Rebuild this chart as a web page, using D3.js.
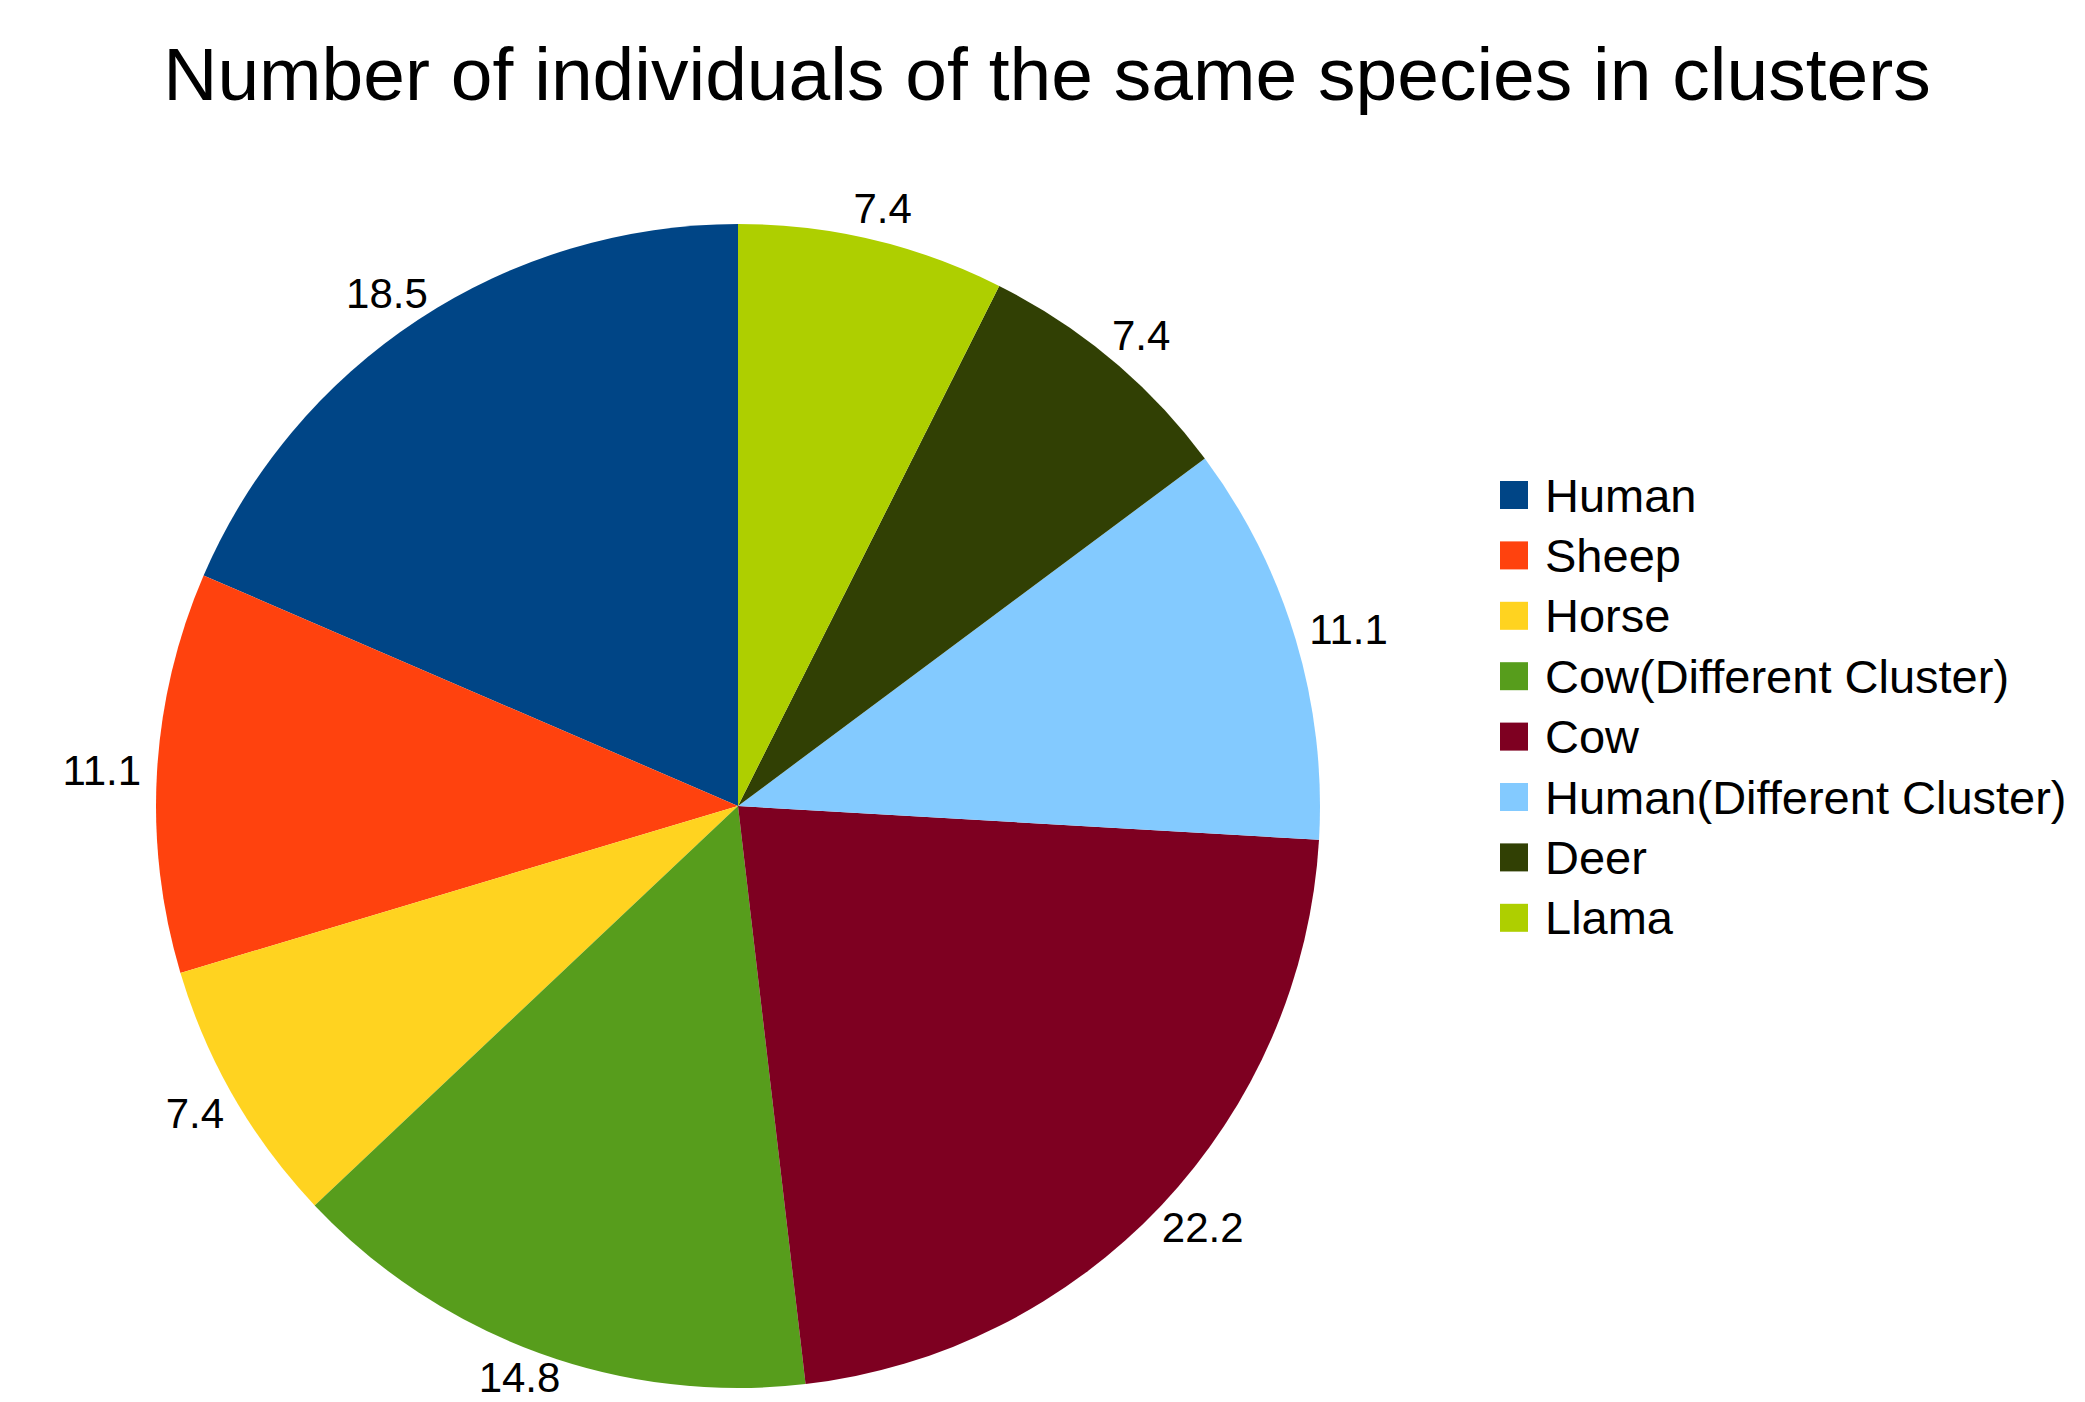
<!DOCTYPE html>
<html>
<head>
<meta charset="utf-8">
<script src="https://d3js.org/d3.v7.min.js"></script>
<style>
  html, body { margin: 0; padding: 0; background: #ffffff; }
  svg { display: block; }
  text { font-family: "Liberation Sans", Arial, sans-serif; fill: #000; }
</style>
</head>
<body>
<script>
const categories = ["Human", "Sheep", "Horse", "Cow(Different Cluster)", "Cow", "Human(Different Cluster)", "Deer", "Llama"];
const values = [18.5, 11.1, 7.4, 14.8, 22.2, 11.1, 7.4, 7.4];
const labels = ["18.5", "11.1", "7.4", "14.8", "22.2", "11.1", "7.4", "7.4"];
const colors = ["#004586", "#ff420e", "#ffd320", "#579d1c", "#7e0021", "#83caff", "#314004", "#aecf00"];
const title = "Number of individuals of the same species in clusters";

const W = 2085, H = 1402;
const cx = 738, cy = 806, R = 582;

const svg = d3.select("body").append("svg").attr("width", W).attr("height", H);

svg.append("text")
  .attr("x", 1047).attr("y", 100)
  .attr("text-anchor", "middle")
  .style("font-size", "75px")
  .text(title);

const data = categories.map((c, i) => ({ name: c, value: values[i], label: labels[i], color: colors[i] }));

const pie = d3.pie().sort(null).value(d => d.value).startAngle(0).endAngle(-2 * Math.PI);
const arcs = pie(data);
const arc = d3.arc().innerRadius(0).outerRadius(R);

const g = svg.append("g").attr("transform", `translate(${cx},${cy})`);
g.selectAll("path").data(arcs).enter().append("path")
  .attr("d", arc)
  .attr("fill", d => d.data.color);

const R0 = 598;
const lbl = g.selectAll("text.lbl").data(arcs).enter().append("text")
  .attr("class", "lbl")
  .attr("text-anchor", "middle")
  .attr("dominant-baseline", "central")
  .style("font-size", "42px")
  .text(d => d.data.label);
lbl.each(function(d) {
  const a = (d.startAngle + d.endAngle) / 2;
  const w = this.getComputedTextLength();
  const h = 32;
  const s = Math.sin(a), c = Math.cos(a);
  const x = s * R0 + s * w / 2;
  let y = -c * R0 - c * h / 2;
  d3.select(this).attr("x", x).attr("y", y);
  // keep the label inside the picture
  const bb = this.getBBox();
  const overflow = (cy + bb.y + bb.height) - (H - 1);
  if (overflow > 0) d3.select(this).attr("y", y - overflow);
});

const legY = d3.scalePoint().domain(categories).range([495, 495 + 7 * 60.4]);
const leg = svg.append("g");
const items = leg.selectAll("g").data(data).enter().append("g")
  .attr("transform", d => `translate(0,${legY(d.name)})`);
items.append("rect")
  .attr("x", 1500).attr("y", -14).attr("width", 28).attr("height", 28)
  .attr("fill", d => d.color);
items.append("text")
  .attr("x", 1545).attr("y", 0)
  .attr("dominant-baseline", "central")
  .style("font-size", "47px")
  .text(d => d.name);
</script>
</body>
</html>
